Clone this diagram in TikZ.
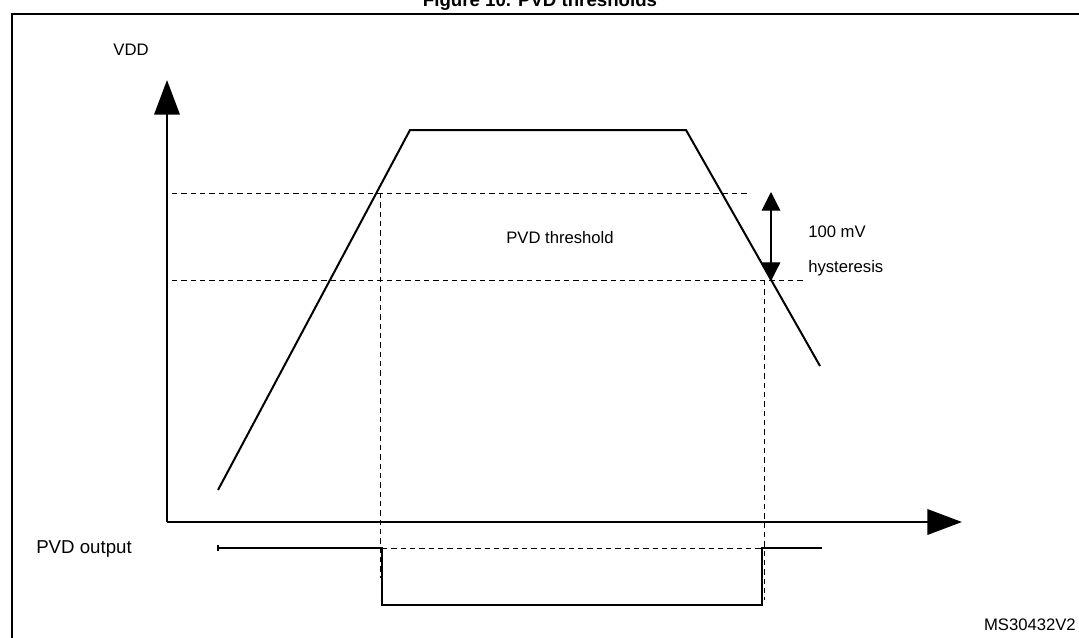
\documentclass[tikz,border=0pt]{standalone}
\usepackage{fontspec}
\setmainfont{Liberation Sans}
\usetikzlibrary{arrows.meta}
\begin{document}
\begin{tikzpicture}[x=0.75pt,y=-0.75pt,
  lbl/.style={font=\fontsize{12.5}{14}\selectfont,inner sep=0pt},
  dsh/.style={dash pattern=on 4pt off 3pt,line width=0.7pt},
  sig/.style={line width=1.5pt},
  ax/.style={line width=2pt,-{Triangle[length=26pt,width=19pt]}}]
\useasboundingbox (0,0) rectangle (1079,637);
\draw[line width=1.3pt] (12,660) -- (12,14) -- (1090,14);
\node[font=\bfseries\fontsize{14}{16}\selectfont] (title) at (540,2) {Figure 10. PVD thresholds};
\node[lbl] (vdd) at (131,50) {VDD};
\coordinate (o) at (167,522);
\coordinate (yt) at (167,80);
\coordinate (xt) at (962,522);
\draw[ax] (o) -- (yt);
\draw[ax] (o) -- (xt);
\coordinate (a) at (218,490); \coordinate (b) at (410,130);
\coordinate (c) at (686,130); \coordinate (d) at (820,366);
\draw[sig] (a) -- (b) -- (c) -- (d);
\draw[dsh] (172,193) -- (750,193);
\draw[dsh] (172,280) -- (805,280);
\draw[dsh] (380,193) -- (380,578);
\draw[dsh] (764,280) -- (764,600);
\draw[dsh] (382,548) -- (762,548);
\coordinate (h1) at (771,192); \coordinate (h2) at (771,281);
\draw[line width=0.9pt,{Triangle[length=14pt,width=14pt]}-{Triangle[length=14pt,width=14pt]}] (h1) -- (h2);
\node[lbl,anchor=west] (mv) at (808,232) {100 mV};
\node[lbl,anchor=west] (hy) at (808,268) {hysteresis};
\node[lbl] (thr) at (560,238) {PVD threshold};
\node[lbl,anchor=west,font=\fontsize{14}{16}\selectfont] (pvd) at (36,549) {PVD output};
\draw[sig] (218,548) -- (382,548) -- (382,605) -- (762,605) -- (762,548) -- (822,548);
\draw[line width=0.8pt] (218,545) -- (218,551);
\node[lbl,anchor=east] (ms) at (1076,625) {MS30432V2};
\end{tikzpicture}
\end{document}
